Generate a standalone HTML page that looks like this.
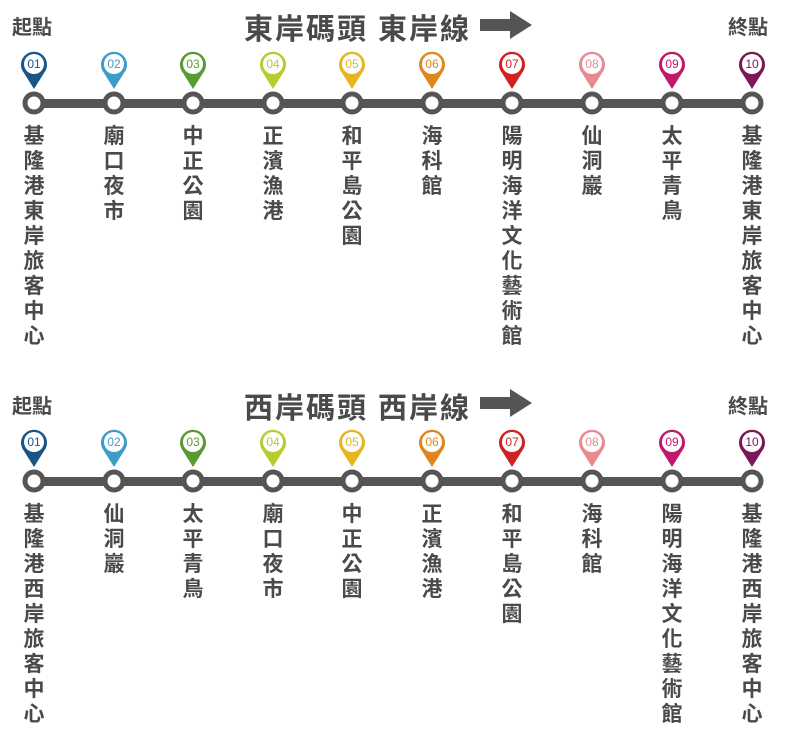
<!DOCTYPE html>
<html><head><meta charset="utf-8"><style>
body{margin:0;width:790px;height:735px;background:#fff;position:relative;overflow:hidden;font-family:"Liberation Sans","Noto Sans CJK TC",sans-serif;color:#4a4a4a}
.a{position:absolute}
.t{font-weight:bold;font-size:20px}
.h{font-weight:bold;font-size:29px;letter-spacing:2px}
.lb{position:absolute;width:26px;margin-left:-13px;font-size:21px;font-weight:bold;line-height:25px;text-align:center;word-break:break-all}
</style></head><body>
<svg class="a" style="left:0;top:0" width="790" height="735">
<defs>
<g id="pin"><path d="M0,26 L-10,10 A13,13 0 1 1 10,10 Z"/><circle r="10" cy="1" fill="#fff"/></g>
<g id="ring"><circle r="9" fill="#fff" stroke="#555" stroke-width="5"/></g>
</defs>
<polygon points="480,19 510,19 510,11 532,25 510,39 510,31 480,31" fill="#555"/>
<rect x="34" y="99" width="718" height="9" fill="#555"/>
<polygon points="480,397 510,397 510,389 532,403 510,417 510,409 480,409" fill="#555"/>
<rect x="34" y="477" width="718" height="9" fill="#555"/>
<g font-family="Liberation Sans" font-size="12" text-anchor="middle">
<g transform="translate(0,63)">
<use href="#pin" x="34" fill="#1b5586"/><text x="34" y="5" fill="#1b5586">01</text>
<use href="#pin" x="114" fill="#3d9dc8"/><text x="114" y="5" fill="#3d9dc8">02</text>
<use href="#pin" x="193" fill="#5a9a32"/><text x="193" y="5" fill="#5a9a32">03</text>
<use href="#pin" x="273" fill="#b8cc30"/><text x="273" y="5" fill="#b8cc30">04</text>
<use href="#pin" x="352" fill="#e6b520"/><text x="352" y="5" fill="#e6b520">05</text>
<use href="#pin" x="432" fill="#e0861c"/><text x="432" y="5" fill="#e0861c">06</text>
<use href="#pin" x="512" fill="#d02222"/><text x="512" y="5" fill="#d02222">07</text>
<use href="#pin" x="592" fill="#e88a90"/><text x="592" y="5" fill="#e88a90">08</text>
<use href="#pin" x="672" fill="#c0186a"/><text x="672" y="5" fill="#c0186a">09</text>
<use href="#pin" x="752" fill="#7a1858"/><text x="752" y="5" fill="#7a1858">10</text>
</g>
<g transform="translate(0,441)">
<use href="#pin" x="34" fill="#1b5586"/><text x="34" y="5" fill="#1b5586">01</text>
<use href="#pin" x="114" fill="#3d9dc8"/><text x="114" y="5" fill="#3d9dc8">02</text>
<use href="#pin" x="193" fill="#5a9a32"/><text x="193" y="5" fill="#5a9a32">03</text>
<use href="#pin" x="273" fill="#b8cc30"/><text x="273" y="5" fill="#b8cc30">04</text>
<use href="#pin" x="352" fill="#e6b520"/><text x="352" y="5" fill="#e6b520">05</text>
<use href="#pin" x="432" fill="#e0861c"/><text x="432" y="5" fill="#e0861c">06</text>
<use href="#pin" x="512" fill="#d02222"/><text x="512" y="5" fill="#d02222">07</text>
<use href="#pin" x="592" fill="#e88a90"/><text x="592" y="5" fill="#e88a90">08</text>
<use href="#pin" x="672" fill="#c0186a"/><text x="672" y="5" fill="#c0186a">09</text>
<use href="#pin" x="752" fill="#7a1858"/><text x="752" y="5" fill="#7a1858">10</text>
</g>
</g>
<g transform="translate(0,103)">
<use href="#ring" x="34"/><use href="#ring" x="114"/><use href="#ring" x="193"/><use href="#ring" x="273"/><use href="#ring" x="352"/><use href="#ring" x="432"/><use href="#ring" x="512"/><use href="#ring" x="592"/><use href="#ring" x="672"/><use href="#ring" x="752"/>
</g>
<g transform="translate(0,481)">
<use href="#ring" x="34"/><use href="#ring" x="114"/><use href="#ring" x="193"/><use href="#ring" x="273"/><use href="#ring" x="352"/><use href="#ring" x="432"/><use href="#ring" x="512"/><use href="#ring" x="592"/><use href="#ring" x="672"/><use href="#ring" x="752"/>
</g>
</svg>
<div class="a t" style="left:12px;top:11px">起點</div>
<div class="a t" style="left:728px;top:11px">終點</div>
<div class="a h" style="left:244px;top:6px">東岸碼頭 東岸線</div>
<div class="a t" style="left:12px;top:390px">起點</div>
<div class="a t" style="left:728px;top:390px">終點</div>
<div class="a h" style="left:244px;top:385px">西岸碼頭 西岸線</div>

<div class="lb" style="left:34px;top:124px">基隆港東岸旅客中心</div>
<div class="lb" style="left:114px;top:124px">廟口夜市</div>
<div class="lb" style="left:193px;top:124px">中正公園</div>
<div class="lb" style="left:273px;top:124px">正濱漁港</div>
<div class="lb" style="left:352px;top:124px">和平島公園</div>
<div class="lb" style="left:432px;top:124px">海科館</div>
<div class="lb" style="left:512px;top:124px">陽明海洋文化藝術館</div>
<div class="lb" style="left:592px;top:124px">仙洞巖</div>
<div class="lb" style="left:672px;top:124px">太平青鳥</div>
<div class="lb" style="left:752px;top:124px">基隆港東岸旅客中心</div>

<div class="lb" style="left:34px;top:502px">基隆港西岸旅客中心</div>
<div class="lb" style="left:114px;top:502px">仙洞巖</div>
<div class="lb" style="left:193px;top:502px">太平青鳥</div>
<div class="lb" style="left:273px;top:502px">廟口夜市</div>
<div class="lb" style="left:352px;top:502px">中正公園</div>
<div class="lb" style="left:432px;top:502px">正濱漁港</div>
<div class="lb" style="left:512px;top:502px">和平島公園</div>
<div class="lb" style="left:592px;top:502px">海科館</div>
<div class="lb" style="left:672px;top:502px">陽明海洋文化藝術館</div>
<div class="lb" style="left:752px;top:502px">基隆港西岸旅客中心</div>
</body></html>
